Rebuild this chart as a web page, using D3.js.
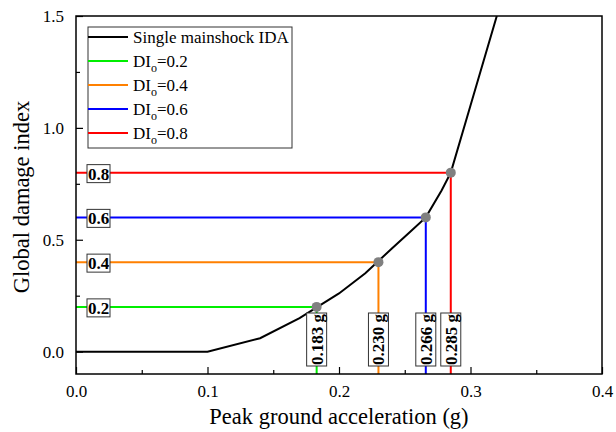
<!DOCTYPE html>
<html>
<head>
<meta charset="utf-8">
<script src="https://cdn.jsdelivr.net/npm/d3@7"></script>
<style>
  body { margin: 0; background: #fff; }
  text { font-family: "Liberation Serif", "Times New Roman", serif; }
</style>
</head>
<body>
<svg id="chart" width="616" height="432"></svg>
<script>
// IDA curve (PGA in g, global damage index)
var idaPga = [0, 0.1, 0.14, 0.17, 0.2, 0.22, 0.24, 0.255, 0.266, 0.278, 0.285, 0.3, 0.32]
var idaDI  = [0, 0, 0.06, 0.15, 0.26, 0.35, 0.46, 0.54, 0.6, 0.72, 0.8, 1.1, 1.5]

// damage thresholds and their PGA
var levels   = [0.2, 0.4, 0.6, 0.8]
var levelPga = [0.183, 0.230, 0.266, 0.285]
var levelColors = ["#00ee00", "#ff8000", "#0000ff", "#ff0000"]

var xTicks = [0, 0.1, 0.2, 0.3, 0.4]
var yTicks = [0, 0.5, 1.0, 1.5]

function draw() {
  var svg = d3.select("#chart")

  var pl = 76, pr = 602, pt = 16, pb = 374

  var x = d3.scaleLinear().domain([0, 0.4]).range([pl, pr])
  var y = d3.scaleLinear().domain([-0.1, 1.5]).range([pb, pt])

  svg.append("defs").append("clipPath").attr("id", "clip")
    .append("rect").attr("x", pl).attr("y", pt)
    .attr("width", pr - pl).attr("height", pb - pt)

  var plot = svg.append("g").attr("clip-path", "url(#clip)")

  // threshold lines
  levels.forEach(function(l, i) {
    plot.append("path")
      .attr("d", `M${x(0)},${y(l)}H${x(levelPga[i])}V${y(-0.1)}`)
      .attr("fill", "none")
      .attr("stroke", levelColors[i])
      .attr("stroke-width", 2)
  })

  // IDA curve
  var line = d3.line().x(d => x(d[0])).y(d => y(d[1]))
  plot.append("path")
    .datum(d3.zip(idaPga, idaDI))
    .attr("d", line)
    .attr("fill", "none")
    .attr("stroke", "#000")
    .attr("stroke-width", 2)

  // intersection dots
  plot.selectAll("circle.pt")
    .data(levels)
    .enter().append("circle")
      .attr("class", "pt")
      .attr("cx", (d, i) => x(levelPga[i]))
      .attr("cy", d => y(d))
      .attr("r", 5)
      .attr("fill", "#808080")

  // value boxes on the y side
  levels.forEach(function(l) {
    var g = svg.append("g").attr("transform", `translate(${pl + 22.5},${y(l) + 1})`)
    g.append("rect").attr("x", -11.5).attr("y", -9).attr("width", 23).attr("height", 18)
      .attr("fill", "#fff").attr("stroke", "#333").attr("stroke-width", 1)
    g.append("text").attr("text-anchor", "middle").attr("dy", "0.35em")
      .style("font-size", "17px").style("font-weight", "bold")
      .text(l.toFixed(1))
  })

  // rotated PGA boxes near the x axis
  levelPga.forEach(function(p) {
    var g = svg.append("g").attr("transform", `translate(${x(p)},339.5) rotate(-90)`)
    g.append("rect").attr("x", -26.5).attr("y", -10).attr("width", 53).attr("height", 20)
      .attr("fill", "#fff").attr("stroke", "#333").attr("stroke-width", 1)
    g.append("text").attr("text-anchor", "middle").attr("dy", "0.35em")
      .style("font-size", "17px").style("font-weight", "bold")
      .text(p.toFixed(3) + " g")
  })

  // axes
  var xAxis = d3.axisBottom(x).tickValues(xTicks).tickSize(-7).tickPadding(11).tickFormat(d3.format(".1f"))
  var xMinor = d3.axisBottom(x).tickValues([0.05, 0.15, 0.25, 0.35]).tickSize(-4).tickFormat("")
  var yAxis = d3.axisLeft(y).tickValues(yTicks).tickSize(-7).tickPadding(12).tickFormat(d3.format(".1f"))
  var yMinor = d3.axisLeft(y).tickValues([0.25, 0.75, 1.25]).tickSize(-4).tickFormat("")

  function styleAxis(g) {
    g.select(".domain").remove()
    g.selectAll("line").attr("stroke", "#000").attr("stroke-width", 1.2)
    g.selectAll("text").attr("fill", "#000").style("font-size", "17px")
      .style("font-family", "Liberation Serif")
  }

  svg.append("g").attr("transform", `translate(0,${pb})`).call(xAxis).call(styleAxis)
  svg.append("g").attr("transform", `translate(0,${pb})`).call(xMinor).call(styleAxis)
  svg.append("g").attr("transform", `translate(${pl},0)`).call(yAxis).call(styleAxis)
  svg.append("g").attr("transform", `translate(${pl},0)`).call(yMinor).call(styleAxis)

  // frame
  svg.append("rect")
    .attr("x", pl).attr("y", pt).attr("width", pr - pl).attr("height", pb - pt)
    .attr("fill", "none").attr("stroke", "#000").attr("stroke-width", 1.5)

  // axis titles
  svg.append("text")
    .attr("x", (pl + pr) / 2).attr("y", 424)
    .attr("text-anchor", "middle").style("font-size", "22.5px")
    .text("Peak ground acceleration (g)")
  svg.append("text")
    .attr("transform", `translate(29,${(pt + pb) / 2 + 2}) rotate(-90)`)
    .attr("text-anchor", "middle").style("font-size", "22.5px")
    .text("Global damage index")

  // legend
  var legend = svg.append("g").attr("transform", "translate(88,27)")
  legend.append("rect").attr("width", 204).attr("height", 121)
    .attr("fill", "#fff").attr("stroke", "#333").attr("stroke-width", 1)

  var legendNames = ["Single mainshock IDA"].concat(levels.map(l => "=" + l))
  var legendColors = ["#000"].concat(levelColors)

  legendNames.forEach(function(name, i) {
    var row = legend.append("g").attr("transform", `translate(0,${10 + i * 24})`)
    row.append("line").attr("x1", 0).attr("x2", 40)
      .attr("stroke", legendColors[i]).attr("stroke-width", 2)
    var t = row.append("text").attr("x", 45).attr("dy", "0.35em").style("font-size", "17px")
    if (i == 0) {
      t.text(name)
    } else {
      t.append("tspan").text("DI")
      t.append("tspan").attr("dy", 5).style("font-size", "12px").text("o")
      t.append("tspan").attr("dy", -5).text(name)
    }
  })
}

draw()
</script>
</body>
</html>
